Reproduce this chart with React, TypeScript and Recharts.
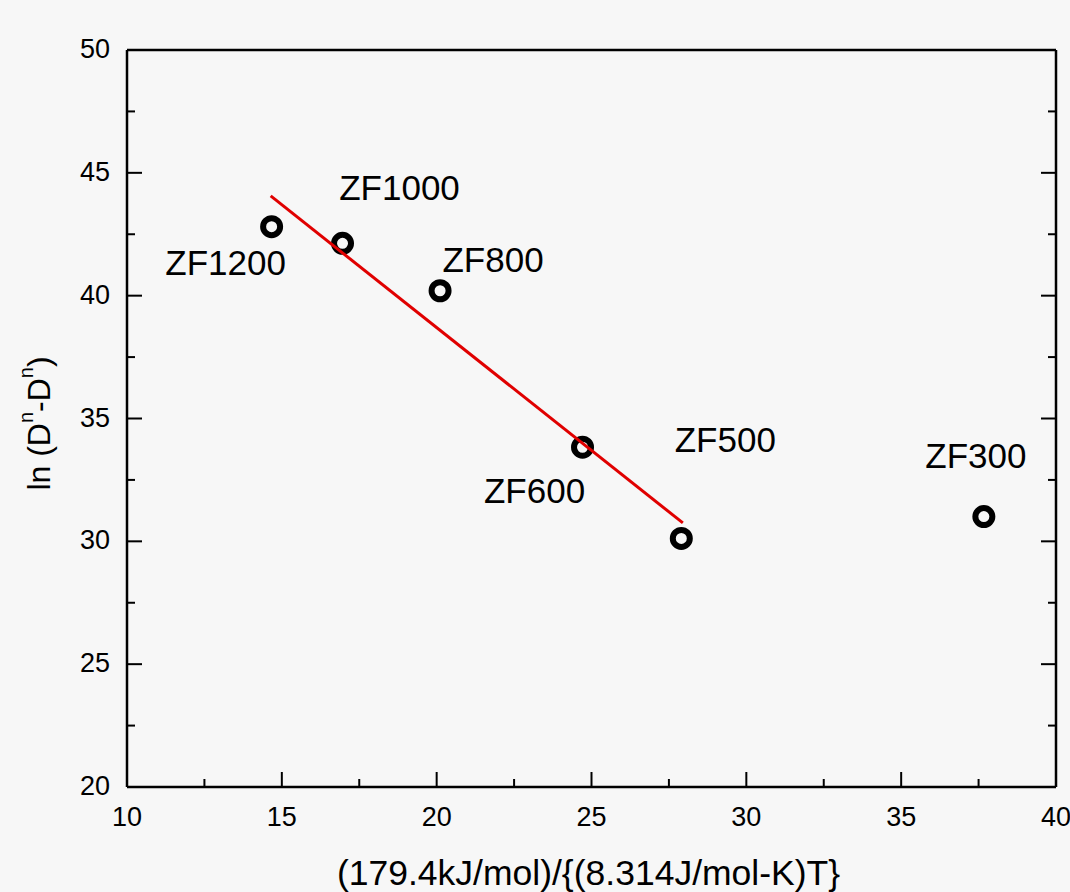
import { ScatterChart, Scatter, XAxis, YAxis } from 'recharts';

const sampleNames = ['ZF1200', 'ZF1000', 'ZF800', 'ZF600', 'ZF500', 'ZF300'];
const energyTerm = [14.67, 16.96, 20.11, 24.71, 27.9, 37.67];
const lnValues = [42.81, 42.13, 40.2, 33.83, 30.12, 31.01];

// end points of the linear fit (ZF1200..ZF500)
const fitX = [14.64, 27.95];
const fitY = [44.06, 30.75];

const xMajorTicks = [10, 15, 20, 25, 30, 35, 40];
const xMinorTicks = [12.5, 17.5, 22.5, 27.5, 32.5, 37.5];
const yMajorTicks = [20, 25, 30, 35, 40, 45, 50];
const yMinorTicks = [22.5, 27.5, 32.5, 37.5, 42.5, 47.5];

// label placement relative to each marker, in px: [dx, dy of baseline]
const labelOffsets: Record<string, [number, number]> = {
  ZF1200: [-46, 48],
  ZF1000: [57, -43],
  ZF800: [53, -19],
  ZF600: [-48, 56],
  ZF500: [44, -86],
  ZF300: [-8, -49],
};

const points = sampleNames.map((name, i) => ({ name, x: energyTerm[i], y: lnValues[i] }));
const fitLine = fitX.map((x, i) => ({ x, y: fitY[i] }));

const xTicks = [...xMajorTicks, ...xMinorTicks].sort((a, b) => a - b);
const yTicks = [...yMajorTicks, ...yMinorTicks].sort((a, b) => a - b);

const FONT = '"Liberation Sans", Arial, sans-serif';
const MAJOR = 15;
const MINOR = 8;

const BottomTick = ({ x, y, payload }: any) => {
  const major = xMajorTicks.includes(payload.value);
  return (
    <g>
      <line x1={x} x2={x} y1={y} y2={y - (major ? MAJOR : MINOR)} stroke="#000" strokeWidth={2} />
      {major && (
        <text x={x} y={y + 39} textAnchor="middle" fontSize={27} fontFamily={FONT} fill="#000">
          {payload.value}
        </text>
      )}
    </g>
  );
};

const TopTick = ({ x, y, payload }: any) => {
  const major = xMajorTicks.includes(payload.value);
  return <line x1={x} x2={x} y1={y} y2={y + (major ? MAJOR : MINOR)} stroke="#000" strokeWidth={2} />;
};

const LeftTick = ({ x, y, payload }: any) => {
  const major = yMajorTicks.includes(payload.value);
  return (
    <g>
      <line x1={x} x2={x + (major ? MAJOR : MINOR)} y1={y} y2={y} stroke="#000" strokeWidth={2} />
      {major && (
        <text x={x - 17} y={y + 8} textAnchor="end" fontSize={27} fontFamily={FONT} fill="#000">
          {payload.value}
        </text>
      )}
    </g>
  );
};

const RightTick = ({ x, y, payload }: any) => {
  const major = yMajorTicks.includes(payload.value);
  return <line x1={x} x2={x - (major ? MAJOR : MINOR)} y1={y} y2={y} stroke="#000" strokeWidth={2} />;
};

const Marker = (props: any) => {
  const { cx, cy, payload } = props;
  const [dx, dy] = labelOffsets[payload.name] || [0, -30];
  return (
    <g>
      <circle cx={cx} cy={cy} r={8.5} fill="none" stroke="#000" strokeWidth={6} />
      <text x={cx + dx} y={cy + dy} textAnchor="middle" fontSize={35} fontFamily={FONT} fill="#000">
        {payload.name}
      </text>
    </g>
  );
};

const XLabel = (props: any) => {
  const vb = props.viewBox;
  return (
    <text x={vb.x + vb.width / 2 - 3} y={vb.y + 98} textAnchor="middle" fontSize={35.5} fontFamily={FONT} fill="#000">
      (179.4kJ/mol)/{'{'}(8.314J/mol-K)T{'}'}
    </text>
  );
};

const YLabel = (props: any) => {
  const vb = props.viewBox;
  const cx = vb.x + 39;
  const cy = vb.y + vb.height / 2 + 5;
  return (
    <text
      x={cx}
      y={cy}
      transform={`rotate(-90, ${cx}, ${cy})`}
      textAnchor="middle"
      dominantBaseline="central"
      fontSize={32}
      fontFamily={FONT}
      fill="#000"
    >
      ln (D<tspan dy={-13} fontSize={20}>n</tspan>
      <tspan dy={13}>-D</tspan>
      <tspan dy={-13} fontSize={20}>n</tspan>
      <tspan dy={13}>)</tspan>
    </text>
  );
};

export default function App() {
  return (
    <div style={{ position: 'absolute', left: 0, top: 0, width: 1070, height: 892, background: '#f7f7f7' }}>
      <ScatterChart width={1070} height={892} margin={{ top: 0, right: 0, bottom: 0, left: 0 }}>
        <XAxis
          type="number"
          dataKey="x"
          domain={[10, 40]}
          ticks={xTicks}
          interval={0}
          height={105}
          tickSize={0}
          tickMargin={0}
          tickLine={false}
          tick={<BottomTick />}
          axisLine={{ stroke: '#000', strokeWidth: 2.5 }}
          allowDataOverflow
          label={XLabel}
        />
        <XAxis
          xAxisId="top"
          orientation="top"
          type="number"
          domain={[10, 40]}
          ticks={xTicks}
          interval={0}
          height={50}
          tickSize={0}
          tickMargin={0}
          tickLine={false}
          tick={<TopTick />}
          axisLine={{ stroke: '#000', strokeWidth: 2.5 }}
          allowDataOverflow
        />
        <YAxis
          type="number"
          dataKey="y"
          domain={[20, 50]}
          ticks={yTicks}
          interval={0}
          width={127}
          tickSize={0}
          tickMargin={0}
          tickLine={false}
          tick={<LeftTick />}
          axisLine={{ stroke: '#000', strokeWidth: 2.5 }}
          allowDataOverflow
          label={YLabel}
        />
        <YAxis
          yAxisId="right"
          orientation="right"
          type="number"
          domain={[20, 50]}
          ticks={yTicks}
          interval={0}
          width={14}
          tickSize={0}
          tickMargin={0}
          tickLine={false}
          tick={<RightTick />}
          axisLine={{ stroke: '#000', strokeWidth: 2.5 }}
          allowDataOverflow
        />
        <Scatter data={points} shape={<Marker />} isAnimationActive={false} />
        <Scatter
          data={fitLine}
          line={{ stroke: '#e00000', strokeWidth: 3 }}
          shape={() => <g />}
          isAnimationActive={false}
        />
      </ScatterChart>
    </div>
  );
}
